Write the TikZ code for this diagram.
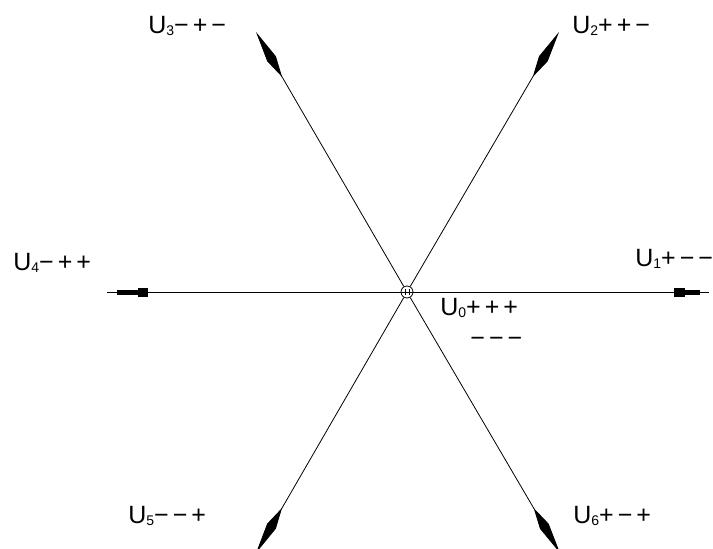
\documentclass[tikz,border=0pt]{standalone}
\usepackage{fontspec}
\setmainfont{Liberation Sans}
\usetikzlibrary{arrows.meta}
\newcommand\lsub[1]{\raisebox{-2pt}{\fontsize{14}{14}\selectfont #1}}
\begin{document}
\begin{tikzpicture}[x=1pt,y=-1pt, line width=0.8pt,
  vec/.style={-{Kite[length=52pt,width=10pt,inset=21pt]}},
  lab/.style={anchor=base west, inner sep=0pt, font=\fontsize{25}{25}\selectfont},
  headbar/.style={fill=black}]
\useasboundingbox (0,0) rectangle (713,549);
\node[circle,draw,minimum size=12pt,inner sep=0pt,line width=0.8pt] (O) at (407,292) {};
\coordinate (t1) at (709,292);
\coordinate (t4) at (107,292);
\coordinate (t2) at (559,32);
\coordinate (t3) at (256,32);
\coordinate (t5) at (256,553);
\coordinate (t6) at (560,553);
% horizontal axis
\draw (t4) -- (t1);
\fill[headbar] (117,289.5) rectangle (138,294.5);
\fill[headbar] (138,287.5) rectangle (148,296.5);
\fill[headbar] (674,287.5) rectangle (685,296.5);
\fill[headbar] (685,289.5) rectangle (700,294.5);
% diagonal vectors
\draw[vec] (O) -- (t2);
\draw[vec] (O) -- (t3);
\draw[vec] (O) -- (t5);
\draw[vec] (O) -- (t6);
% marks inside centre circle
\draw[line width=0.6pt] ([xshift=-2pt,yshift=-3pt]O.center) -- ([xshift=-2pt,yshift=3pt]O.center);
\draw[line width=0.6pt] ([xshift=2pt,yshift=-3pt]O.center) -- ([xshift=2pt,yshift=3pt]O.center);
% labels
\node[lab] (l2) at (572,33) {U\lsub{2}+\kern4pt+\kern4pt−};
\node[lab] (l3) at (148,33) {U\lsub{3}−\kern4pt+\kern4pt−};
\node[lab] (l4) at (13,270) {U\lsub{4}−\kern4pt+\kern4pt+};
\node[lab] (l1) at (635,266) {U\lsub{1}+\kern4pt−\kern4pt−};
\node[lab] (l0) at (440,315) {U\lsub{0}+\kern4pt+\kern4pt+};
\node[lab] (l0b) at (470,346) {−\kern4pt−\kern4pt−};
\node[lab] (l5) at (128,523) {U\lsub{5}−\kern4pt−\kern4pt+};
\node[lab] (l6) at (573,523) {U\lsub{6}+\kern4pt−\kern4pt+};
\end{tikzpicture}
\end{document}
